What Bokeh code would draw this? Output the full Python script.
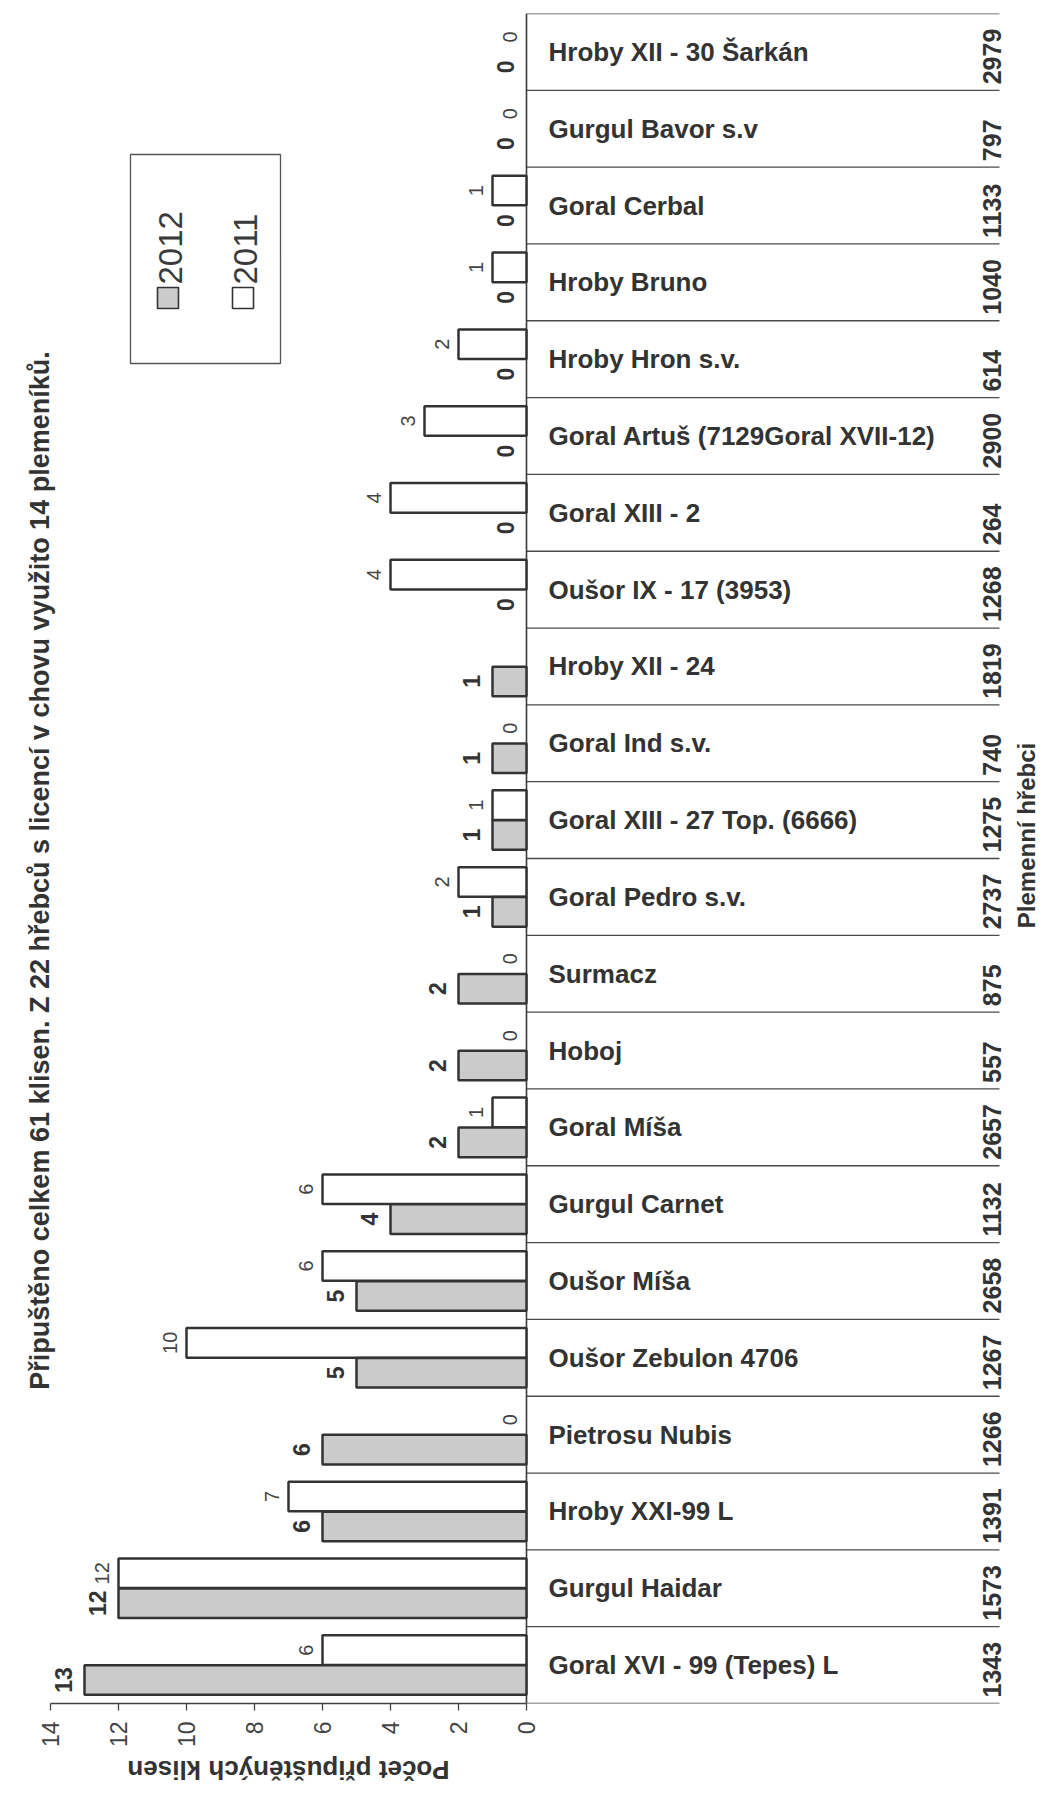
import math
from bokeh.plotting import figure
from bokeh.layouts import column
from bokeh.models import Range1d, ColumnDataSource, FixedTicker
from bokeh.core.properties import value
from bokeh.embed import file_html
from bokeh.resources import INLINE

# ---------------- data ----------------
chart_title = "Připuštěno celkem 61 klisen. Z 22 hřebců s licencí v chovu využito 14 plemeníků."
x_axis_label = "Počet připuštěných klisen"
y_axis_label = "Plemenní hřebci"

stallions = [
    "Hroby XII - 30 Šarkán", "Gurgul Bavor s.v", "Goral Cerbal", "Hroby Bruno",
    "Hroby Hron s.v.", "Goral Artuš (7129Goral XVII-12)", "Goral XIII - 2",
    "Oušor IX - 17 (3953)", "Hroby XII - 24", "Goral Ind s.v.",
    "Goral XIII - 27 Top. (6666)", "Goral Pedro s.v.", "Surmacz", "Hoboj",
    "Goral Míša", "Gurgul Carnet", "Oušor Míša", "Oušor Zebulon 4706",
    "Pietrosu Nubis", "Hroby XXI-99 L", "Gurgul Haidar", "Goral XVI - 99 (Tepes) L",
]
stallion_ids = ["2979", "797", "1133", "1040", "614", "2900", "264", "1268", "1819",
                "740", "1275", "2737", "875", "557", "2657", "1132", "2658", "1267",
                "1266", "1391", "1573", "1343"]
mares_2012 = [0, 0, 0, 0, 0, 0, 0, 0, 1, 1, 1, 1, 2, 2, 2, 4, 5, 5, 6, 6, 12, 13]
mares_2011 = [0, 0, 1, 1, 2, 3, 4, 4, None, 0, 1, 2, 0, 0, 1, 6, 6, 10, 0, 7, 12, 6]
series_names = ["2012", "2011"]
x_ticks = [0, 2, 4, 6, 8, 10, 12, 14]

# ---------------- layout (pixels, page = figure coordinates) ----------------
FIG_W, FIG_H = 1042, 1750
LABEL_H = 38
BASE_PX = 526          # x of value 0
UNIT_PX = 34.0         # pixels per mare
TOP_PX, BOTTOM_PX = 13, 1703
N = len(stallions)
ROW_PX = (BOTTOM_PX - TOP_PX) / N


def px_x(page_x):
    return (BASE_PX - page_x) / UNIT_PX


def px_y(page_y):
    return (page_y - TOP_PX) / ROW_PX


GREY = "#cbcbcb"
INK = "#333333"
FONT = value("Liberation Sans")

x_range = Range1d(px_x(0), px_x(FIG_W))
p = figure(width=FIG_W, height=FIG_H, output_backend="svg", toolbar_location=None,
           x_range=x_range, y_range=Range1d(N, 0), y_axis_location=None,
           min_border_left=0, min_border_right=0, min_border_top=TOP_PX,
           min_border_bottom=FIG_H - BOTTOM_PX)
p.outline_line_color = None
p.xgrid.visible = False
p.ygrid.visible = False
p.background_fill_color = "white"
p.border_fill_color = "white"

BAR_H = 0.385
OFF = 0.195
TABLE_RIGHT = px_x(999)
ID_X = px_x(991)

# row lines and baseline
p.segment(x0=[0] * (N + 1), x1=[TABLE_RIGHT] * (N + 1), y0=list(range(N + 1)),
          y1=list(range(N + 1)), line_color="#4a4a4a", line_width=1.3)
p.segment(x0=[0], x1=[0], y0=[0], y1=[N], line_color="#3a3a3a", line_width=1.6)

# bars
rows = list(range(N))
b12 = ColumnDataSource(dict(
    y=[i + 0.5 + OFF for i in rows if mares_2012[i]],
    right=[mares_2012[i] for i in rows if mares_2012[i]]))
b11 = ColumnDataSource(dict(
    y=[i + 0.5 - OFF for i in rows if mares_2011[i]],
    right=[mares_2011[i] for i in rows if mares_2011[i]]))
p.hbar(y="y", left=0, right="right", height=BAR_H, source=b11,
       fill_color="white", line_color=INK, line_width=2.5)
p.hbar(y="y", left=0, right="right", height=BAR_H, source=b12,
       fill_color=GREY, line_color=INK, line_width=2.5)

# value labels
l12 = ColumnDataSource(dict(x=mares_2012, y=[i + 0.5 + OFF for i in rows],
                            t=[str(v) for v in mares_2012]))
l11 = ColumnDataSource(dict(
    x=[mares_2011[i] for i in rows if mares_2011[i] is not None],
    y=[i + 0.5 - OFF for i in rows if mares_2011[i] is not None],
    t=[str(mares_2011[i]) for i in rows if mares_2011[i] is not None]))
p.text(x="x", y="y", text="t", source=l12, angle=math.pi / 2, x_offset=-13,
       text_align="center", text_baseline="bottom", text_font=FONT,
       text_font_style="bold", text_font_size="23px", text_color=INK)
p.text(x="x", y="y", text="t", source=l11, angle=math.pi / 2, x_offset=-10,
       text_align="center", text_baseline="bottom", text_font=FONT,
       text_font_size="20px", text_color="#444444")

# category names and ids
names = ColumnDataSource(dict(x=[0] * N, y=[i + 0.5 for i in rows], t=stallions))
p.text(x="x", y="y", text="t", source=names, x_offset=22, text_align="left",
       text_baseline="middle", text_font=FONT, text_font_style="bold",
       text_font_size="26px", text_color=INK)
ids = ColumnDataSource(dict(x=[ID_X] * N, y=[i + 1 - 6 / ROW_PX for i in rows],
                            t=stallion_ids))
p.text(x="x", y="y", text="t", source=ids, angle=math.pi / 2, text_align="left",
       text_baseline="alphabetic", text_font=FONT, text_font_style="bold",
       text_font_size="25px", text_color=INK)

# title and right label
p.text(x=[px_x(39)], y=[px_y(870)], text=[chart_title], angle=math.pi / 2,
       text_align="center", text_baseline="middle", text_font=FONT,
       text_font_style="bold", text_font_size="27px", text_color=INK)
p.text(x=[px_x(1026)], y=[px_y(835)], text=[y_axis_label], angle=math.pi / 2,
       text_align="center", text_baseline="middle", text_font=FONT,
       text_font_style="bold", text_font_size="24px", text_color=INK)

# legend (rotated, drawn by hand)
p.quad(left=[px_x(130)], right=[px_x(280)], top=[px_y(154)], bottom=[px_y(363)],
       fill_color="white", line_color="#555555", line_width=1.3)
leg_cx = [168, 243]
leg_fill = [GREY, "white"]
p.quad(left=[px_x(c - 11) for c in leg_cx], right=[px_x(c + 10) for c in leg_cx],
       top=[px_y(287)] * 2, bottom=[px_y(308)] * 2, fill_color=leg_fill,
       line_color=INK, line_width=1.6)
p.text(x=[px_x(c + 2) for c in leg_cx], y=[px_y(284)] * 2, text=series_names,
       angle=math.pi / 2, text_align="left", text_baseline="middle", text_font=FONT,
       text_font_size="33px", text_color="#3a3a3a")

# axis
ax = p.xaxis[0]
ax.ticker = FixedTicker(ticks=x_ticks)
ax.bounds = (0, 14)
ax.axis_line_color = "#444444"
ax.axis_line_width = 1.3
ax.major_tick_line_color = "#444444"
ax.major_tick_line_width = 1.3
ax.major_tick_out = 7
ax.major_tick_in = 0
ax.minor_tick_out = 0
ax.minor_tick_in = 0
ax.major_label_orientation = math.pi / 2
ax.major_label_standoff = 11
ax.major_label_text_font = "Liberation Sans"
ax.major_label_text_font_size = "23px"
ax.major_label_text_color = "#444444"

# axis title strip (upside-down text, centred under the value axis)
q = figure(width=FIG_W, height=LABEL_H, output_backend="svg", toolbar_location=None,
           x_range=x_range, y_range=Range1d(0, 1), x_axis_location=None,
           y_axis_location=None, min_border=0)
q.outline_line_color = None
q.xgrid.visible = False
q.ygrid.visible = False
q.text(x=[sum(ax.bounds) / 2], y=[0.5], text=[x_axis_label], angle=math.pi,
       text_align="center", text_baseline="middle", text_font=FONT,
       text_font_style="bold", text_font_size="26px", text_color=INK)

layout = column(p, q, spacing=0)
open("out.html", "w").write(file_html(layout, INLINE))
